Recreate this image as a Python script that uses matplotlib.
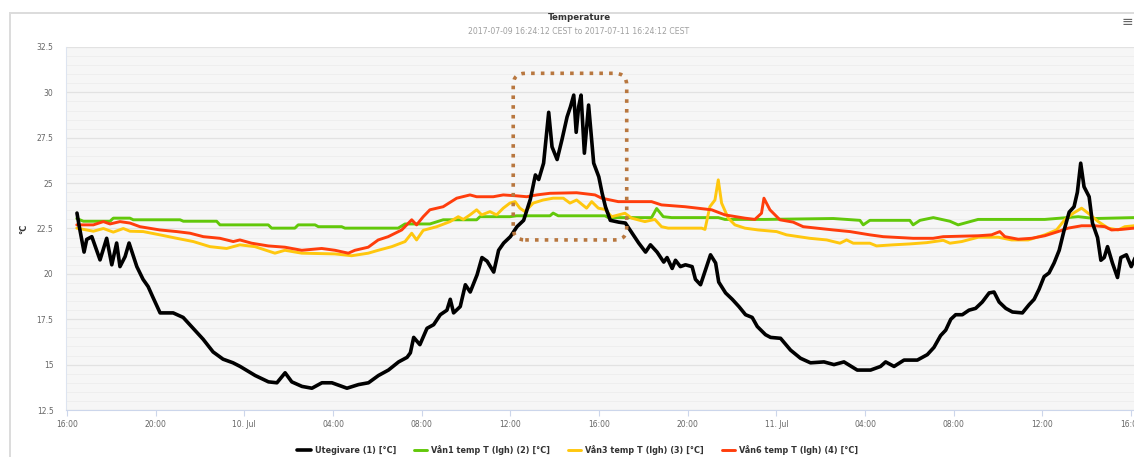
import numpy as np
import pandas as pd
import matplotlib
matplotlib.use("Agg")
import matplotlib.pyplot as plt
import matplotlib.dates as mdates
from matplotlib.patches import FancyBboxPatch
from matplotlib.lines import Line2D
from matplotlib.transforms import IdentityTransform
from matplotlib.ticker import MultipleLocator, FuncFormatter

# hours after 2017-07-09 16:00, temperatures in degC
black_h = [0.45, 0.54, 0.77, 0.89, 1.12, 1.49, 1.79, 2.02, 2.24, 2.39, 2.62, 2.80, 3.15, 3.43, 3.66, 3.88,
           4.20, 4.79, 5.24, 5.69, 6.14, 6.59, 7.04, 7.49, 7.81,
           8.49, 9.09, 9.47, 9.84, 10.14, 10.60, 11.05, 11.50, 11.95, 12.63, 13.15, 13.60, 14.05, 14.50,
           14.96, 15.34,
           15.49, 15.64, 15.92, 16.24, 16.54, 16.84, 17.14, 17.29, 17.44, 17.74, 17.97, 18.19, 18.50, 18.72,
           18.95, 19.25, 19.47, 19.70, 20.00, 20.30, 20.60, 20.90, 21.13, 21.28, 21.50, 21.73, 21.88, 22.11,
           22.33, 22.56, 22.71, 22.86, 22.97, 23.08, 23.19, 23.34, 23.53,
           23.76, 23.99, 24.14, 24.29, 24.51, 24.89, 25.19, 25.49, 25.79, 26.10, 26.32, 26.62, 26.92, 27.07,
           27.30, 27.45, 27.67, 27.90, 28.20, 28.35, 28.58, 28.80, 29.03, 29.26, 29.40, 29.71, 30.01, 30.31,
           30.61, 30.91, 31.14, 31.51,
           31.74, 32.19, 32.64, 33.09, 33.54, 34.15, 34.60, 35.05, 35.65, 36.25, 36.70, 36.93, 37.31, 37.76,
           38.36, 38.81, 39.11, 39.41, 39.64, 39.87, 40.09,
           40.39, 40.69, 40.99, 41.29, 41.60, 41.82, 42.05, 42.35, 42.65, 43.10, 43.40, 43.63, 43.85, 44.08,
           44.30, 44.53, 44.76, 44.98, 45.21, 45.43, 45.58, 45.73, 45.88, 46.11, 46.26, 46.49, 46.64, 46.79,
           46.94, 47.16, 47.39, 47.54, 47.79, 48.01, 48.19, 48.40]
black_t = [23.35, 22.7, 21.2, 21.9, 22.05, 20.77, 21.96, 20.5, 21.7, 20.4, 20.95, 21.7, 20.4, 19.7, 19.3, 18.7,
           17.85, 17.85, 17.6, 17.0, 16.4, 15.7, 15.3, 15.1, 14.9,
           14.4, 14.05, 14.0, 14.55, 14.05, 13.8, 13.7, 14.0, 14.0, 13.7, 13.9, 14.0, 14.4, 14.7,
           15.15, 15.4,
           15.65, 16.5, 16.1, 17.0, 17.2, 17.75, 18.0, 18.6, 17.85, 18.2, 19.4, 19.0, 19.95, 20.9,
           20.7, 20.1, 21.3, 21.7, 22.05, 22.6, 22.95, 24.1, 25.45, 25.2, 26.1, 28.9, 27.0, 26.3,
           27.4, 28.65, 29.2, 29.85, 27.8, 29.2, 29.85, 26.65, 29.3,
           26.1, 25.35, 24.45, 23.7, 22.95, 22.85, 22.8, 22.25, 21.7, 21.2, 21.6, 21.2, 20.65, 20.9,
           20.3, 20.75, 20.4, 20.5, 20.4, 19.7, 19.4, 20.2, 21.05, 20.6, 19.55, 18.95, 18.6, 18.2,
           17.75, 17.6, 17.1, 16.65,
           16.5, 16.45, 15.8, 15.35, 15.1, 15.15, 15.0, 15.15, 14.7, 14.7, 14.9, 15.15, 14.9, 15.25,
           15.25, 15.55, 15.95, 16.6, 16.9, 17.5, 17.75,
           17.75, 18.0, 18.1, 18.45, 18.95, 19.0, 18.45, 18.1, 17.9, 17.85, 18.3, 18.6, 19.15, 19.85,
           20.05, 20.6, 21.3, 22.4, 23.4, 23.7, 24.5, 26.1, 24.8, 24.25, 22.8, 22.0, 20.75, 20.9,
           21.5, 20.6, 19.8, 20.9, 21.05, 20.4, 20.9, 20.8]

green_h = [0.44, 0.74, 1.94, 2.09, 2.84, 2.99, 5.10, 5.25, 6.75, 6.90, 7.80, 9.08, 9.23, 10.28, 10.43, 11.19,
           11.34, 12.39, 12.54, 14.94, 15.25, 16.37, 16.97, 18.48, 18.63, 19.98, 20.28, 21.79, 21.93, 22.16,
           23.59, 24.27, 24.42, 26.37, 26.60, 26.90, 27.28, 29.38, 29.68, 31.48, 34.57, 35.77, 35.92, 36.22,
           38.02, 38.17, 38.48, 39.08, 39.83, 40.20, 41.10, 44.11, 45.62, 46.37, 48.13, 48.40]
green_t = [23.05, 22.9, 22.9, 23.07, 23.07, 22.98, 22.98, 22.9, 22.9, 22.7, 22.7, 22.7, 22.52, 22.52, 22.7, 22.7,
           22.6, 22.6, 22.52, 22.52, 22.75, 22.75, 22.98, 22.98, 23.15, 23.15, 23.2, 23.2, 23.35, 23.2,
           23.2, 23.2, 23.1, 23.1, 23.6, 23.15, 23.1, 23.1, 23.0, 23.0, 23.05, 22.95, 22.7, 22.95,
           22.95, 22.7, 22.95, 23.1, 22.9, 22.7, 23.0, 23.0, 23.15, 23.05, 23.1, 23.1]

yellow_h = [0.44, 1.19, 1.64, 2.09, 2.54, 2.84, 3.44, 4.19, 4.95, 5.70, 6.45, 7.20, 7.80, 8.48, 9.38, 9.83,
            10.59, 12.09, 12.84, 13.59, 14.04, 14.65, 15.25, 15.55, 15.77, 16.07, 16.68, 17.28, 17.65, 17.88,
            18.18, 18.48, 18.71, 19.08, 19.38, 19.68, 19.98, 20.21, 20.43, 20.66, 21.03, 21.48, 21.93, 22.39,
            22.69, 22.99, 23.44, 23.67, 23.97, 24.27, 24.57, 25.17, 25.47, 26.07, 26.52, 26.82, 27.12, 28.63,
            28.78, 29.00, 29.23, 29.38, 29.53, 29.83, 30.13, 30.58, 31.18, 32.01, 32.46, 33.51, 34.27, 34.87,
            35.17, 35.47, 36.22, 36.52, 37.27, 38.02, 38.78, 39.53, 39.83, 40.36, 41.11, 42.01, 42.61, 43.36,
            44.11, 44.64, 45.01, 45.39, 45.77, 46.07, 46.52, 46.97, 47.42, 47.72, 48.13, 48.40]
yellow_t = [22.52, 22.35, 22.5, 22.3, 22.5, 22.35, 22.33, 22.15, 21.96, 21.78, 21.5, 21.4, 21.6, 21.5, 21.14, 21.3,
            21.14, 21.1, 21.0, 21.14, 21.3, 21.5, 21.78, 22.24, 21.87, 22.4, 22.6, 22.88, 23.15, 23.0,
            23.25, 23.53, 23.25, 23.43, 23.25, 23.62, 23.9, 23.98, 23.62, 23.43, 23.9, 24.07, 24.17, 24.17,
            23.9, 24.07, 23.62, 23.98, 23.62, 23.55, 23.15, 23.34, 23.07, 22.88, 23.0, 22.6, 22.52, 22.52,
            22.45, 23.7, 24.07, 25.18, 23.9, 23.07, 22.7, 22.52, 22.42, 22.33, 22.15, 21.96, 21.87, 21.69,
            21.87, 21.69, 21.69, 21.54, 21.6, 21.65, 21.72, 21.85, 21.69, 21.78, 22.02, 22.02, 21.87, 21.87,
            22.15, 22.42, 22.98, 23.34, 23.62, 23.34, 22.88, 22.52, 22.42, 22.6, 22.65, 22.65]

red_h = [0.44, 1.19, 1.64, 1.94, 2.39, 2.84, 3.29, 4.19, 4.95, 5.55, 6.15, 6.90, 7.50, 7.80, 8.33, 9.08,
         9.83, 10.59, 11.49, 12.09, 12.69, 12.99, 13.59, 14.04, 14.49, 15.10, 15.55, 15.77, 16.07, 16.37,
         16.97, 17.58, 18.18, 18.48, 19.23, 19.68, 20.28, 20.74, 21.19, 21.79, 22.99, 23.82, 24.12, 24.87,
         26.37, 26.82, 27.88, 29.08, 29.68, 30.58, 31.03, 31.33, 31.44, 31.71, 32.16, 32.76, 33.21, 33.82,
         34.57, 35.32, 36.22, 36.82, 38.17, 39.07, 39.53, 41.11, 41.71, 42.08, 42.31, 42.91, 43.51, 44.11,
         44.71, 45.16, 45.77, 46.37, 46.82, 47.12, 47.57, 48.13, 48.40]
red_t = [22.7, 22.7, 22.88, 22.75, 22.88, 22.8, 22.6, 22.42, 22.33, 22.24, 22.05, 21.96, 21.78, 21.87, 21.69, 21.54,
         21.47, 21.3, 21.4, 21.3, 21.14, 21.3, 21.47, 21.87, 22.05, 22.42, 22.98, 22.7, 23.15, 23.53,
         23.7, 24.17, 24.35, 24.25, 24.25, 24.35, 24.3, 24.25, 24.35, 24.44, 24.47, 24.35, 24.17, 23.98,
         23.98, 23.8, 23.7, 23.53, 23.25, 23.07, 23.0, 23.34, 24.17, 23.53, 22.98, 22.85, 22.6, 22.52,
         22.42, 22.33, 22.15, 22.05, 21.96, 21.96, 22.05, 22.1, 22.15, 22.33, 22.05, 21.91, 21.96, 22.1,
         22.33, 22.52, 22.65, 22.65, 22.6, 22.42, 22.45, 22.52, 22.52]

series_names = ["Utegivare (1) [°C]", "Vån1 temp T (lgh) (2) [°C]",
                "Vån3 temp T (lgh) (3) [°C]", "Vån6 temp T (lgh) (4) [°C]"]
series_colors = ["#000000", "#62c80a", "#ffc70e", "#ff3d0c"]

# highlighted region (time in hours, temperature)
box_h = (20.13, 25.25)
box_t = (21.87, 31.05)

base = pd.Timestamp("2017-07-09 16:00")


def to_time(hours):
    return base + pd.to_timedelta(np.asarray(hours), unit="h")


W, H = 1134, 457
fig = plt.figure(figsize=(W / 100, H / 100), dpi=100)
fig.patch.set_facecolor("white")

# plot area: left edge at px 66, runs a bit past the right edge of the image
ax = fig.add_axes([66 / W, (H - 410) / H, (1141 - 66) / W, (410 - 47) / H])
ax.set_facecolor("#f6f6f6")

data = [(black_h, black_t), (green_h, green_t), (yellow_h, yellow_t), (red_h, red_t)]
widths = [2.6, 2.1, 2.1, 2.1]
zorders = [6, 3, 4, 5]
handles = []
for (hh, tt), name, col, lw, zo in zip(data, series_names, series_colors, widths, zorders):
    ln, = ax.plot(to_time(hh), tt, color=col, lw=lw, label=name, zorder=zo,
                  solid_joinstyle="round", solid_capstyle="round")
    handles.append(ln)

ax.set_xlim(base + pd.Timedelta(hours=-0.045), base + pd.Timedelta(hours=48.45))
ax.set_ylim(12.5, 32.5)

ax.yaxis.set_major_locator(MultipleLocator(2.5))
ax.yaxis.set_minor_locator(MultipleLocator(0.5))
ax.yaxis.set_major_formatter(FuncFormatter(lambda v, p: f"{v:g}"))
ax.grid(which="major", axis="y", color="#e2e2e2", lw=0.9)
ax.grid(which="minor", axis="y", color="#ededed", lw=0.6)
ax.set_axisbelow(True)

ax.xaxis.set_major_locator(mdates.HourLocator(byhour=[0, 4, 8, 12, 16, 20]))


def xfmt(v, pos):
    d = mdates.num2date(v)
    return d.strftime("%d. %b") if d.hour == 0 else d.strftime("%H:%M")


ax.xaxis.set_major_formatter(FuncFormatter(xfmt))

for s in ["top", "right"]:
    ax.spines[s].set_visible(False)
ax.spines["bottom"].set_color("#ccd6eb")
ax.spines["left"].set_color("#dde4f0")
ax.spines["bottom"].set_linewidth(0.8)
ax.spines["left"].set_linewidth(0.8)

ax.tick_params(axis="x", colors="#ccd6eb", length=4, width=0.8, pad=3,
               labelsize=5.5, labelcolor="#666666")
ax.tick_params(axis="y", which="both", length=0, pad=9, labelsize=5.5, labelcolor="#666666")

ax.set_ylabel("°C", fontsize=6, fontweight="bold", color="#333333", labelpad=6)

# dotted rounded highlight box, placed from data values
fig.canvas.draw()
x0, y0 = ax.transData.transform((mdates.date2num(base + pd.Timedelta(hours=box_h[0])), box_t[0]))
x1, y1 = ax.transData.transform((mdates.date2num(base + pd.Timedelta(hours=box_h[1])), box_t[1]))
box = FancyBboxPatch((x0, y0), x1 - x0, y1 - y0,
                     boxstyle="round,pad=0,rounding_size=12",
                     fill=False, edgecolor="#b8773f", lw=2.6,
                     linestyle=(0, (1.0, 1.7)), transform=IdentityTransform(), zorder=10)
fig.add_artist(box)

# outer chart frame
fig.add_artist(Line2D([10 / W, 1], [1 - 13 / H, 1 - 13 / H], color="#dcdcdc", lw=1.4,
                      transform=fig.transFigure))
fig.add_artist(Line2D([10 / W, 10 / W], [0, 1 - 13 / H], color="#dcdcdc", lw=1.4,
                      transform=fig.transFigure))

fig.text(579 / W, 1 - 17 / H, "Temperature", ha="center", va="center",
         fontsize=6.3, fontweight="bold", color="#333333")
fig.text(579 / W, 1 - 31 / H, "2017-07-09 16:24:12 CEST to 2017-07-11 16:24:12 CEST",
         ha="center", va="center", fontsize=5.6, color="#a0a0a0")
fig.text(1127 / W, 1 - 22 / H, "≡", ha="center", va="center", fontsize=10, color="#666666")

fig.legend(handles=handles, loc="center", bbox_to_anchor=(578 / W, 1 - 450 / H), ncol=4,
           frameon=False, prop={"weight": "bold", "size": 5.9}, handlelength=1.6,
           handletextpad=0.5, columnspacing=2.2, labelcolor="#333333")

fig.savefig("out.png", dpi=100, facecolor="white")
